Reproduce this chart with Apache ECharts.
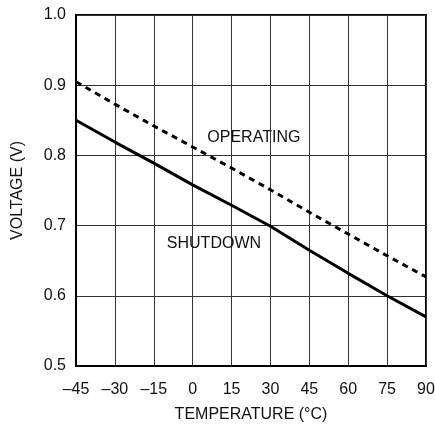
<!DOCTYPE html>
<html><head><meta charset="utf-8">
<script src="https://cdn.jsdelivr.net/npm/echarts@6/dist/echarts.min.js"></script>
<style>html,body{margin:0;padding:0;background:#fff}#c{width:435px;height:427px}</style>
</head><body><div id="c"></div>
<script>
const temperatures = [-45, -30, -15, 0, 15, 30, 45, 60, 75, 90];
const operatingV = [0.905, 0.873, 0.842, 0.812, 0.782, 0.751, 0.719, 0.688, 0.657, 0.627];
const shutdownV = [0.850, 0.819, 0.789, 0.758, 0.729, 0.699, 0.665, 0.632, 0.600, 0.570];
const labelOperating = {name: 'OPERATING', x: 23.6, y: 0.825};
const labelShutdown = {name: 'SHUTDOWN', x: 8.2, y: 0.675};
const FONT = '"Liberation Sans Narrow", "Liberation Sans", Arial, sans-serif';

const chart = echarts.init(document.getElementById('c'));
const txt = {color: '#111', fontFamily: FONT, fontSize: 16};
chart.setOption({
  animation: false,
  grid: {left: 76, right: 9, top: 15, bottom: 61, outerBoundsMode: 'none', containLabel: false,
         show: true, borderColor: '#000', borderWidth: 2},
  xAxis: {
    type: 'value', min: -45, max: 90, interval: 15,
    name: 'TEMPERATURE (°C)', nameLocation: 'middle', nameGap: 41,
    nameTextStyle: Object.assign({}, txt, {fontSize: 16}),
    axisLine: {show: true, onZero: false, lineStyle: {color: '#000', width: 2}},
    axisTick: {show: false},
    axisLabel: Object.assign({}, txt, {margin: 16, formatter: v => (v < 0 ? '–' + Math.abs(v) : String(v))}),
    splitLine: {show: true, lineStyle: {color: '#333', width: 1}}
  },
  yAxis: {
    type: 'value', min: 0.5, max: 1.0, interval: 0.1,
    name: 'VOLTAGE (V)', nameLocation: 'middle', nameGap: 50,
    nameTextStyle: Object.assign({}, txt, {fontSize: 16}),
    axisLine: {show: true, onZero: false, lineStyle: {color: '#000', width: 2}},
    axisTick: {show: false},
    axisLabel: Object.assign({}, txt, {margin: 10, formatter: v => v.toFixed(1)}),
    splitLine: {show: true, lineStyle: {color: '#333', width: 1}}
  },
  series: [
    {
      type: 'line', name: 'OPERATING', showSymbol: false, symbol: 'none',
      data: temperatures.map((t, i) => [t, operatingV[i]]),
      lineStyle: {color: '#000', width: 3, type: [6, 5]},
      markPoint: {
        symbolSize: 0, silent: true,
        data: [{coord: [labelOperating.x, labelOperating.y], value: labelOperating.name}],
        label: Object.assign({}, txt, {show: true, formatter: labelOperating.name, position: 'inside'})
      }
    },
    {
      type: 'line', name: 'SHUTDOWN', showSymbol: false, symbol: 'none',
      data: temperatures.map((t, i) => [t, shutdownV[i]]),
      lineStyle: {color: '#000', width: 3},
      markPoint: {
        symbolSize: 0, silent: true,
        data: [{coord: [labelShutdown.x, labelShutdown.y], value: labelShutdown.name}],
        label: Object.assign({}, txt, {show: true, formatter: labelShutdown.name, position: 'inside'})
      }
    }
  ]
});
</script></body></html>
